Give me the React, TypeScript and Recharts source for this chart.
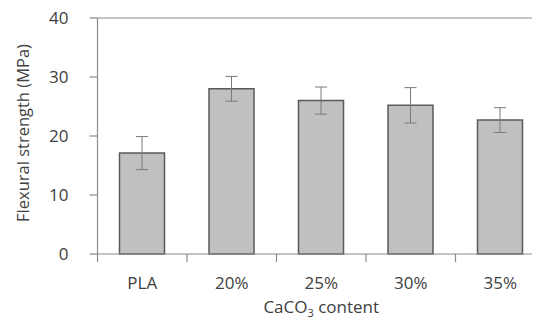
import { BarChart, Bar, XAxis, YAxis, ErrorBar, ReferenceLine } from 'recharts';

// Flexural strength by CaCO3 content
const categories = ['PLA', '20%', '25%', '30%', '35%'];
const strength = [17.1, 28.0, 26.0, 25.2, 22.7];
const strengthErr = [2.8, 2.1, 2.3, 3.0, 2.1];
const yTicks = [0, 10, 20, 30, 40];

const data = categories.map((name, i) => ({
  name,
  value: strength[i],
  err: strengthErr[i],
}));

const FONT = '"Open Sans", "Noto Sans", sans-serif';
const AXIS = '#8a8a8a';
const TEXT = '#404040';

const CategoryTick = (props: any) => {
  const { x, y, payload } = props;
  const half = payload?.offset ?? 44.75;
  return (
    <g>
      <line x1={x - half} x2={x - half} y1={y} y2={y + 8} stroke={AXIS} strokeWidth={1.2} />
      <text x={x} y={y + 35} textAnchor="middle" fill={TEXT} fontSize={17} fontFamily={FONT}>
        {payload.value}
      </text>
    </g>
  );
};

const XTitle = (props: any) => {
  const vb = props.viewBox || {};
  const cx = (vb.x ?? 97.5) + (vb.width ?? 447.5) / 2;
  return (
    <text x={cx} y={313} textAnchor="middle" fill={TEXT} fontSize={17} fontFamily={FONT}>
      CaCO
      <tspan fontSize={11} dy={4}>3</tspan>
      <tspan dy={-4}> content</tspan>
    </text>
  );
};

const YTitle = () => (
  <text
    x={0}
    y={0}
    transform="translate(22.5,133) rotate(-90)"
    textAnchor="middle"
    dominantBaseline="central"
    fill={TEXT}
    fontSize={16.5}
    fontFamily={FONT}
  >
    Flexural strength (MPa)
  </text>
);

const App = () => {
  return (
    <div style={{ margin: '-8px 0 0 -8px', width: 540, height: 321, overflow: 'hidden', background: '#fff' }}>
      <BarChart
        width={550}
        height={321}
        data={data}
        margin={{ top: 18, right: 5, left: 0, bottom: 37 }}
      >
        <ReferenceLine y={40} stroke={AXIS} strokeWidth={1.2} ifOverflow="extendDomain" />
        <XAxis
          dataKey="name"
          stroke={AXIS}
          strokeWidth={1.2}
          tickLine={false}
          tickSize={0}
          tickMargin={0}
          height={30}
          tick={<CategoryTick />}
          interval={0}
          label={<XTitle />}
        />
        <YAxis
          domain={[0, 40]}
          ticks={yTicks}
          width={97.5}
          stroke={AXIS}
          strokeWidth={1.2}
          tickSize={8}
          tickMargin={21}
          tick={{ fill: TEXT, fontSize: 17, fontFamily: FONT }}
          label={<YTitle />}
        />
        <Bar
          dataKey="value"
          fill="#c0c0c0"
          stroke="#5a5a5a"
          strokeWidth={1.5}
          barSize={45}
          isAnimationActive={false}
        >
          <ErrorBar dataKey="err" width={6} stroke="#7a7a7a" strokeWidth={1} />
        </Bar>
      </BarChart>
    </div>
  );
};

export default App;
